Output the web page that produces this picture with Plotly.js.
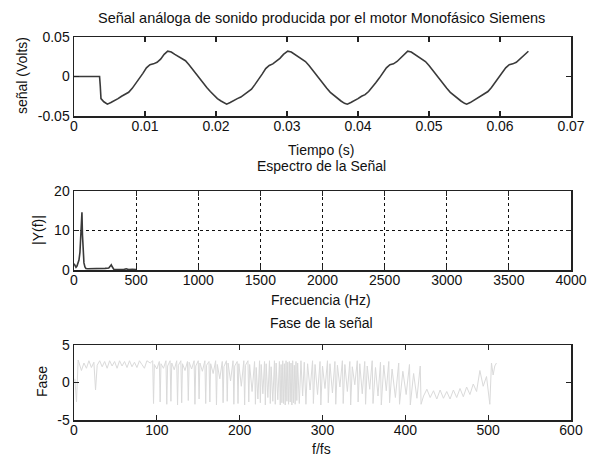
<!DOCTYPE html>
<html>
<head>
<meta charset="utf-8">
<script src="https://cdn.plot.ly/plotly-3.0.1.min.js"></script>
<style>html,body{margin:0;padding:0;background:#fff;}#chart{width:592px;height:462px;}</style>
</head>
<body>
<div id="chart"></div>
<script>
// ---- Signal (time domain) ----
const timeS = [0,0.0036,0.0037,0.0038,0.0042,0.0047,
0.0052,0.0057,0.0062,0.0067,0.0072,0.0077,0.0082,0.0087,0.0092,0.0097,0.0102,0.0107,0.0112,0.0117,0.0122,0.0127,0.0132,0.0137,0.0142,0.0147,0.0152,0.0157,0.0162,0.0167,0.0172,0.0177,0.0182,0.0187,0.0192,0.0197,0.0202,0.0207,0.0212,0.0215,
0.0220,0.0225,0.0230,0.0235,0.0240,0.0245,0.0250,0.0255,0.0260,0.0265,0.0270,0.0275,0.0280,0.0285,0.0290,0.0295,0.0301,0.0306,0.0311,0.0316,0.0321,0.0326,0.0331,0.0336,0.0341,0.0346,0.0351,0.0356,0.0361,0.0366,0.0371,0.0376,0.0381,0.0385,
0.0390,0.0395,0.0400,0.0405,0.0410,0.0415,0.0420,0.0425,0.0430,0.0435,0.0440,0.0445,0.0450,0.0455,0.0460,0.0465,0.0470,0.0475,0.0480,0.0485,0.0490,0.0495,0.0500,0.0505,0.0510,0.0515,0.0520,0.0525,0.0530,0.0535,0.0540,0.0545,0.0550,0.0553,
0.0558,0.0563,0.0568,0.0573,0.0578,0.0583,0.0588,0.0593,0.0598,0.0603,0.0608,0.0613,0.0618,0.0623,0.0628,0.0633,0.0638,0.0640];
const signalV = [0,0,-0.012,-0.028,-0.032,-0.035,
-0.033,-0.031,-0.028,-0.025,-0.023,-0.020,-0.015,-0.009,-0.003,0.004,0.011,0.015,0.016,0.018,0.022,0.028,0.032,0.031,0.028,0.025,0.023,0.020,0.015,0.009,0.003,-0.003,-0.009,-0.014,-0.019,-0.024,-0.028,-0.031,-0.034,-0.035,
-0.033,-0.030,-0.028,-0.026,-0.023,-0.020,-0.016,-0.010,-0.004,0.003,0.010,0.014,0.016,0.019,0.023,0.028,0.032,0.031,0.028,0.025,0.022,0.019,0.014,0.008,0.002,-0.004,-0.010,-0.015,-0.020,-0.024,-0.028,-0.031,-0.034,-0.035,
-0.033,-0.031,-0.028,-0.025,-0.023,-0.019,-0.014,-0.008,-0.002,0.005,0.011,0.015,0.016,0.019,0.023,0.028,0.032,0.031,0.028,0.025,0.023,0.019,0.014,0.008,0.002,-0.004,-0.010,-0.015,-0.020,-0.024,-0.028,-0.031,-0.034,-0.035,
-0.033,-0.030,-0.028,-0.025,-0.022,-0.019,-0.014,-0.008,-0.002,0.005,0.011,0.015,0.016,0.018,0.022,0.027,0.031,0.032];

// ---- Spectrum ----
const freqHz = [0,8,16,24,32,40,48,56,60,64,68,72,80,88,96,110,130,150,200,250,280,290,296,300,304,310,320,350,400,420,430,440,470,480,500,505];
const magY  = [1.6,1.0,0.7,1.0,1.6,2.5,4.5,10,13.5,14.6,9,4.5,1.8,0.8,0.4,0.3,0.3,0.4,0.4,0.4,0.5,0.8,1.2,1.3,1.0,0.5,0.2,0.1,0.1,0.3,0.1,0.1,0.2,0.1,0.1,0.1];

// ---- Phase ----
const phaseIdx = [1,3,5,7,9,12,15,18,21,24,26,28,31,34,37,40,43,46,49,52,55,58,61,64,67,70,73,76,79,82,85,88,
92,95,96,97,100,103,104,105,108,111,112,113,116,117,118,121,124,125,126,129,130,131,134,137,138,139,142,145,146,147,150,151,152,155,158,159,160,163,164,165,168,171,172,173,176,179,180,181,184,185,186,189,192,193,194,197,198,199,202,205,206,207,210,211,212,215,218,219,220,222,224,225,226,228,230,231,232,234,236,237,238,240,242,243,244,246,248,249,250,251,252,253,254,255,256,257,258,259,260,261,262,263,264,265,266,267,268,269,270,272,274,276,278,280,282,285,288,289,291,294,297,298,300,303,306,307,309,312,315,316,318,321,324,325,327,330,333,334,336,339,342,343,345,348,351,352,354,357,360,361,364,367,370,371,374,377,380,381,384,388,392,393,397,401,405,406,410,414,418,419,
422,426,430,434,438,442,446,450,454,458,462,466,470,474,478,482,486,490,494,498,502,504,506,508,510];
const phaseVal = [0.5,-2.6,3.0,2.2,1.6,2.6,1.9,2.9,2.0,2.7,-1.0,2.3,2.9,2.1,2.8,1.9,2.9,2.2,2.8,1.9,2.9,2.2,2.8,2.0,2.9,2.1,2.7,2.0,2.9,2.4,1.9,2.9,
2.6,2.9,-2.8,2.4,1.8,2.8,-2.6,2.5,1.9,2.9,-2.9,2.2,2.9,-2.5,2.6,1.7,2.9,-3.0,2.3,2.9,-2.7,2.5,1.6,2.8,-2.4,2.7,1.8,2.9,-2.9,2.2,2.9,-2.2,2.6,1.5,2.9,-2.8,2.3,2.8,-2.6,2.5,1.2,2.9,-3.0,2.4,0.5,2.8,-2.7,2.1,2.9,-2.5,2.6,0.2,2.9,-2.9,2.2,2.8,-2.8,2.5,-0.5,2.9,-3.0,2.3,2.9,-2.6,2.4,-1.2,2.8,-2.9,2.0,-2.2,2.9,-2.7,2.4,-1.5,2.8,-3.0,2.5,-2.0,2.9,-2.8,2.1,-2.5,2.9,-2.9,2.6,-2.3,2.8,-3.0,2.4,-2.7,2.9,-2.8,2.5,-3.0,2.9,-2.5,2.7,-2.9,2.8,-2.6,2.6,-3.0,2.9,-2.7,2.3,-2.9,2.8,-2.4,2.6,-2.8,2.9,-1.8,2.7,-2.9,2.5,-1.0,2.9,-2.8,2.4,-1.6,2.8,-3.0,2.2,-0.8,2.9,-2.7,2.5,-1.4,2.8,-2.9,2.3,-0.6,2.9,-2.8,2.4,-1.2,2.8,-3.0,2.1,-0.3,2.9,-2.6,2.5,-1.5,2.8,-2.9,2.2,-0.9,2.9,-2.8,2.0,-1.8,2.7,-3.0,2.3,-1.1,2.8,-2.7,1.8,-2.0,2.6,-2.9,1.5,-1.6,2.4,-3.0,1.2,-2.1,2.2,-2.9,
-1.8,-0.9,-2.0,-1.1,-2.2,-1.0,-2.1,-1.2,-2.2,-1.0,-2.0,-0.8,-1.9,-0.6,-1.6,-0.2,-1.2,1.6,-0.5,0.8,-2.9,2.6,1.0,2.2,2.6];

// ---- Tick labels ----
const sigTickVals = [-0.05,0,0.05];
const sigTickText = ['-0.05','0','0.05'];
const timeTickVals = [0,0.01,0.02,0.03,0.04,0.05,0.06,0.07];
const timeTickText = ['0','0.01','0.02','0.03','0.04','0.05','0.06','0.07'];
const freqTickVals = [0,500,1000,1500,2000,2500,3000,3500,4000];
const magTickVals = [0,10,20];
const phaseTickVals = [-5,0,5];
const phaseTickText = ['-5','0','5'];
const idxTickVals = [0,100,200,300,400,500,600];

const W = 592, H = 462;
const px = v => v / W;
const py = v => 1 - v / H;

const tickFont = {family:'Liberation Sans, Arial, sans-serif', size:14, color:'#111'};
const txtFont = {family:'Liberation Sans, Arial, sans-serif', size:14, color:'#111'};

const axBase = {
  showline:true, linecolor:'#222', linewidth:1.5, mirror:'ticks',
  ticks:'inside', ticklen:5, tickwidth:1.2, tickcolor:'#222',
  showgrid:false, zeroline:false, tickfont:tickFont, fixedrange:true
};

const traces = [
  {x:timeS, y:signalV, type:'scatter', mode:'lines', line:{color:'#3a3a3a', width:1.6}, xaxis:'x', yaxis:'y', hoverinfo:'skip'},
  {x:freqHz, y:magY, type:'scatter', mode:'lines', line:{color:'#3a3a3a', width:1.6}, xaxis:'x2', yaxis:'y2', hoverinfo:'skip'},
  {x:phaseIdx, y:phaseVal, type:'scatter', mode:'lines', line:{color:'#dadada', width:1}, xaxis:'x3', yaxis:'y3', hoverinfo:'skip'}
];

const xd = [px(74), px(571)];
const xLab = {ticklabelstandoff:-3};
const layout = {
  width:W, height:H, margin:{l:0,r:0,t:0,b:0},
  paper_bgcolor:'#fff', plot_bgcolor:'#fff', showlegend:false,
  xaxis: Object.assign({}, axBase, xLab, {domain:xd, anchor:'y', range:[0,0.07], tickvals:timeTickVals, ticktext:timeTickText}),
  yaxis: Object.assign({}, axBase, {domain:[py(116), py(37)], anchor:'x', range:[-0.05,0.05], tickvals:sigTickVals, ticktext:sigTickText}),
  xaxis2: Object.assign({}, axBase, xLab, {domain:xd, anchor:'y2', range:[0,4000], tickvals:freqTickVals, showgrid:true, gridcolor:'#111', gridwidth:1, griddash:'dot'}),
  yaxis2: Object.assign({}, axBase, {domain:[py(270), py(191)], anchor:'x2', range:[0,20], tickvals:magTickVals, showgrid:true, gridcolor:'#111', gridwidth:1, griddash:'dot'}),
  xaxis3: Object.assign({}, axBase, xLab, {domain:xd, anchor:'y3', range:[0,600], tickvals:idxTickVals}),
  yaxis3: Object.assign({}, axBase, {domain:[py(420), py(345)], anchor:'x3', range:[-5,5], tickvals:phaseTickVals, ticktext:phaseTickText}),
  annotations: [
    {text:'Señal análoga de sonido producida por el motor Monofásico Siemens', x:px(321), y:py(18), font:Object.assign({}, txtFont, {size:14.5})},
    {text:'Tiempo (s)', x:px(321), y:py(150)},
    {text:'Espectro de la Señal', x:px(321), y:py(166)},
    {text:'Frecuencia (Hz)', x:px(321), y:py(300)},
    {text:'Fase de la señal', x:px(321), y:py(323)},
    {text:'f/fs', x:px(321), y:py(449)},
    {text:'señal (Volts)', x:px(22), y:py(76), textangle:-90},
    {text:'|Y(f)|', x:px(38), y:py(230), textangle:-90},
    {text:'Fase', x:px(42), y:py(382), textangle:-90}
  ].map(a => Object.assign({xref:'paper', yref:'paper', xanchor:'center', yanchor:'middle', showarrow:false, font:txtFont}, a))
};

Plotly.newPlot('chart', traces, layout, {staticPlot:true, displayModeBar:false});
</script>
</body>
</html>
